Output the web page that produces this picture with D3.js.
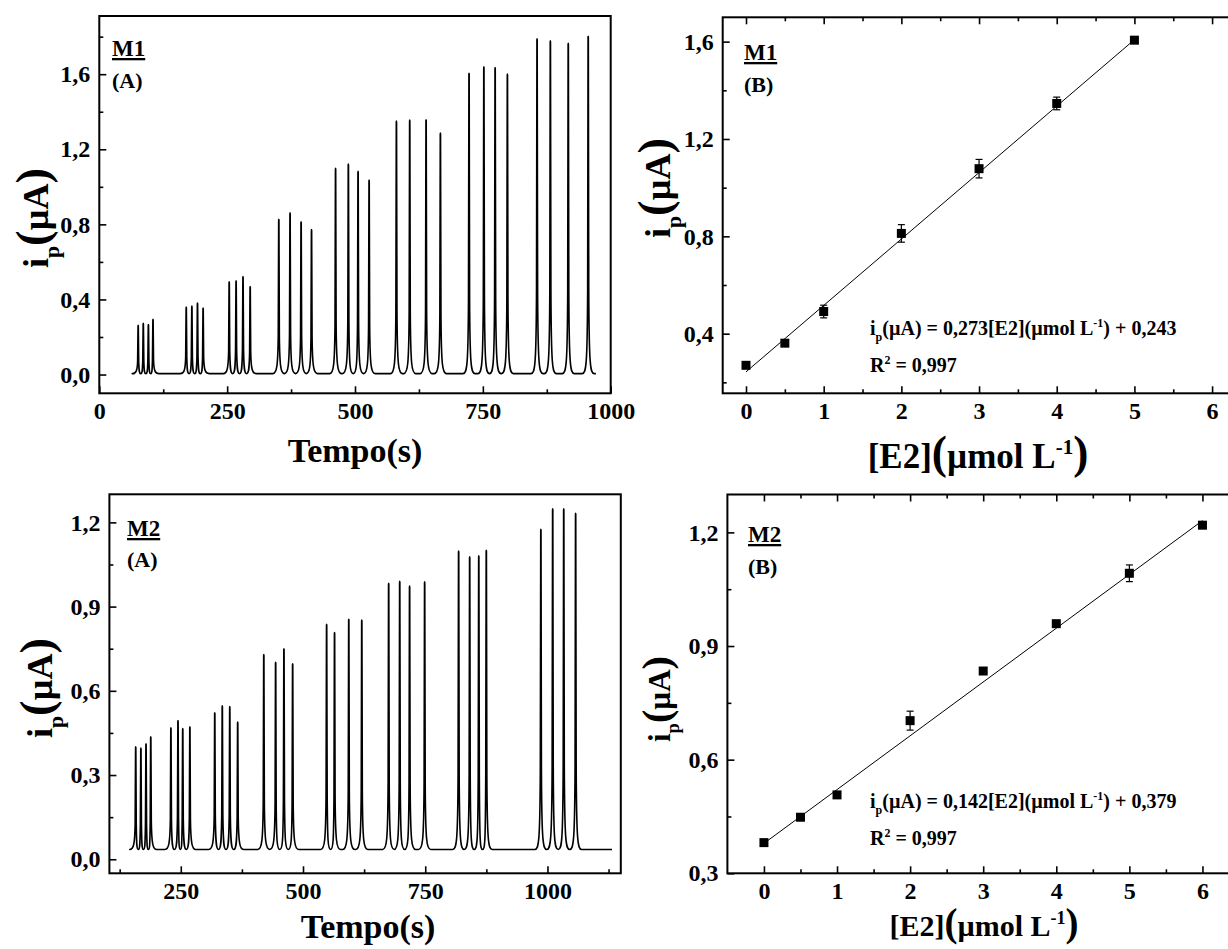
<!DOCTYPE html>
<html>
<head>
<meta charset="utf-8">
<script src="https://cdn.jsdelivr.net/npm/d3@7"></script>
<style>
  body { margin: 0; background: #fff; }
  svg { display: block; }
  text { font-family: "Liberation Serif", "Times New Roman", serif; font-weight: bold; fill: #000; white-space: pre; }
</style>
</head>
<body>
<svg id="chart" width="1228" height="949"></svg>
<script>
// ---- M1 (A): peak times (s) and peak currents (µA) ----
const m1PeakTimes = [76, 86, 96, 105, 170, 181, 192, 203, 254, 267.5, 281, 295,
  351, 373, 394.6, 415, 462, 487, 506, 527.6, 581, 607, 639, 667,
  723, 752, 774, 798, 856, 882, 917, 956];
const m1PeakHeights = [0.264, 0.275, 0.268, 0.296, 0.361, 0.367, 0.383, 0.356,
  0.496, 0.501, 0.523, 0.470, 0.829, 0.863, 0.815, 0.774,
  1.100, 1.123, 1.084, 1.037, 1.352, 1.357, 1.359, 1.288,
  1.607, 1.641, 1.637, 1.602, 1.790, 1.779, 1.766, 1.804];
const m1TraceSpan = [69, 971];
const m1Baseline = 0.005;

// ---- M2 (A) ----
const m2PeakTimes = [157.8, 168.4, 178.9, 188.6, 229.8, 244.3, 254, 268.6,
  319.5, 334.9, 350.2, 366.4, 419.8, 444, 461, 478.8,
  548.3, 564.5, 593.6, 620.2, 675.2, 697.8, 718, 748.8,
  818.3, 840.9, 859.5, 874.9, 986.5, 1010.7, 1033.3, 1057.6];
const m2PeakHeights = [0.402, 0.397, 0.412, 0.437, 0.469, 0.495, 0.467, 0.473,
  0.523, 0.548, 0.545, 0.490, 0.730, 0.703, 0.751, 0.697,
  0.838, 0.809, 0.856, 0.853, 0.984, 0.991, 0.974, 0.989,
  1.099, 1.078, 1.082, 1.102, 1.176, 1.249, 1.249, 1.233];
const m2TraceSpan = [147, 1132];
const m2Baseline = 0.035;

// ---- calibration curves (B) ----
const m1Conc = [0, 0.5, 1, 2, 3, 4, 5];
const m1Current = [0.270, 0.361, 0.491, 0.812, 1.078, 1.346, 1.606];
const m1Error = [0.010, 0.008, 0.026, 0.036, 0.038, 0.026, 0.010];
const m1Fit = [0.273, 0.243]; // slope, intercept

const m2Conc = [0, 0.5, 1, 2, 3, 4, 5, 6];
const m2Current = [0.381, 0.448, 0.507, 0.703, 0.834, 0.959, 1.092, 1.219];
const m2Error = [0.008, 0.006, 0.006, 0.025, 0.008, 0.006, 0.022, 0.006];
const m2Fit = [0.142, 0.379];

// ---- tick values ----
const tempoTicks1 = [0, 250, 500, 750, 1000];
const tempoMinor1 = [125, 375, 625, 875];
const ipTicks1 = [0, 0.4, 0.8, 1.2, 1.6];
const ipMinor1 = [0.2, 0.6, 1.0, 1.4, 1.8];
const tempoTicks2 = [250, 500, 750, 1000];
const tempoMinor2 = [125, 375, 625, 875, 1125];
const ipTicks2 = [0, 0.3, 0.6, 0.9, 1.2];
const ipMinor2 = [0.15, 0.45, 0.75, 1.05];
const concTicks = [0, 1, 2, 3, 4, 5, 6];
const concMinor = [0.5, 1.5, 2.5, 3.5, 4.5, 5.5];
const calTicks1 = [0.4, 0.8, 1.2, 1.6];
const calMinor1 = [0.2, 0.6, 1.0, 1.4];
const calTicks2 = [0.3, 0.6, 0.9, 1.2];
const calMinor2 = [0.45, 0.75, 1.05];

const FONT = '"Liberation Serif", "Times New Roman", serif';
const svg = d3.select("#chart");
const commaFmt = d => d3.format(".1f")(d).replace(".", ",");
const intFmt = d3.format("d");

// text with sub/superscripts and enlarged brackets
function rich(x, y, size, parts, anchor, rotate) {
  const t = svg.append("text")
    .attr("transform", "translate(" + x + "," + y + ")" + (rotate ? " rotate(" + rotate + ")" : ""))
    .attr("text-anchor", anchor || "start")
    .style("font-family", FONT).style("font-weight", "bold")
    .style("font-size", size + "px");
  let shift = 0;
  parts.forEach(p => {
    const s = p.sub ? size * 0.3 : p.sup ? -size * 0.4 : 0;
    const fs = (p.sub || p.sup) ? size * 0.6 : p.big ? size * 1.3 : size;
    t.append("tspan").attr("dy", s - shift).style("font-size", fs + "px").text(p.t);
    shift = s;
  });
  return t;
}

function drawPanel(cfg) {
  const x = d3.scaleLinear().domain(cfg.xDomain).range(cfg.xRange);
  const y = d3.scaleLinear().domain(cfg.yDomain).range(cfg.yRange);
  const g = svg.append("g");

  const bottom = g.append("g").attr("transform", "translate(0," + cfg.yRange[0] + ")");
  bottom.append("g").call(d3.axisBottom(x).tickValues(cfg.xMinor).tickSize(-4).tickFormat(""));
  bottom.append("g").call(d3.axisBottom(x).tickValues(cfg.xMajor).tickSize(-7).tickPadding(9).tickFormat(cfg.xFmt));

  const left = g.append("g").attr("transform", "translate(" + cfg.xRange[0] + ",0)");
  left.append("g").call(d3.axisLeft(y).tickValues(cfg.yMinor).tickSize(-4).tickFormat(""));
  left.append("g").call(d3.axisLeft(y).tickValues(cfg.yMajor).tickSize(-7).tickPadding(9).tickFormat(commaFmt));

  if (cfg.topTicks) {
    const top = g.append("g").attr("transform", "translate(0," + cfg.yRange[1] + ")");
    top.append("g").call(d3.axisTop(x).tickValues(cfg.xMinor).tickSize(-4).tickFormat(""));
    top.append("g").call(d3.axisTop(x).tickValues(cfg.xMajor).tickSize(-7).tickFormat(""));
  }
  g.selectAll(".domain").remove();
  g.selectAll(".tick line").attr("stroke-width", 1.6);
  g.selectAll(".tick text")
    .style("font-family", FONT).style("font-weight", "bold").style("font-size", "24px");

  g.append("rect")
    .attr("x", cfg.xRange[0]).attr("y", cfg.yRange[1])
    .attr("width", cfg.xRange[1] - cfg.xRange[0])
    .attr("height", cfg.yRange[0] - cfg.yRange[1])
    .attr("fill", "none").attr("stroke", "#000").attr("stroke-width", 2);
  return { x, y, g };
}

// continuous amperogram made of narrow peaks
function tracePath(x, y, times, heights, span, base) {
  const B = y(base);
  let d = "M" + x(span[0]) + "," + B;
  times.forEach((t, i) => {
    const X = x(t), T = y(heights[i]), h = B - T;
    const wl = Math.min(6, i ? (X - x(times[i - 1])) / 2 : 6);
    const wr = Math.min(6, i < times.length - 1 ? (x(times[i + 1]) - X) / 2 : 6);
    const f = Math.min(0.05 * h, 7);
    d += "L" + (X - wl) + "," + B +
      "C" + (X - wl * 0.35) + "," + B + " " + (X - 0.9) + "," + (B - f) + " " + (X - 0.55) + "," + (B - 0.25 * h) +
      "L" + (X - 0.12) + "," + (T + 1.2) +
      "Q" + X + "," + (T - 0.6) + " " + (X + 0.12) + "," + (T + 1.2) +
      "L" + (X + 0.55) + "," + (B - 0.25 * h) +
      "C" + (X + 0.9) + "," + (B - f) + " " + (X + wr * 0.35) + "," + B + " " + (X + wr) + "," + B;
  });
  d += "L" + x(span[1]) + "," + B;
  return d;
}

function drawTrace(p, times, heights, span, base) {
  p.g.append("path")
    .attr("d", tracePath(p.x, p.y, times, heights, span, base))
    .attr("fill", "none").attr("stroke", "#000")
    .attr("stroke-width", 1.6).attr("stroke-linejoin", "round");
}

function drawCalibration(p, conc, current, err, fit) {
  const xEnd = d3.max(conc);
  p.g.append("path")
    .datum([0, xEnd])
    .attr("d", d3.line().x(d => p.x(d)).y(d => p.y(fit[0] * d + fit[1])))
    .attr("fill", "none").attr("stroke", "#000").attr("stroke-width", 1);
  const pts = p.g.append("g").selectAll("g").data(conc).join("g");
  pts.append("line")
    .attr("x1", d => p.x(d)).attr("x2", d => p.x(d))
    .attr("y1", (d, i) => p.y(current[i] - err[i])).attr("y2", (d, i) => p.y(current[i] + err[i]))
    .attr("stroke", "#000").attr("stroke-width", 1.2);
  [-1, 1].forEach(s => {
    pts.append("line")
      .attr("x1", d => p.x(d) - 3.5).attr("x2", d => p.x(d) + 3.5)
      .attr("y1", (d, i) => p.y(current[i] + s * err[i])).attr("y2", (d, i) => p.y(current[i] + s * err[i]))
      .attr("stroke", "#000").attr("stroke-width", 1.2);
  });
  pts.append("rect")
    .attr("x", d => p.x(d) - 4.5).attr("y", (d, i) => p.y(current[i]) - 4.5)
    .attr("width", 9).attr("height", 9).attr("fill", "#000");
}

// ---------- panels ----------
const a1 = drawPanel({ xDomain: [0, 1000], xRange: [99.3, 610.7], yDomain: [-0.1, 1.91], yRange: [393.3, 16],
  xMajor: tempoTicks1, xMinor: tempoMinor1, yMajor: ipTicks1, yMinor: ipMinor1, xFmt: intFmt });
drawTrace(a1, m1PeakTimes, m1PeakHeights, m1TraceSpan, m1Baseline);

const b1 = drawPanel({ xDomain: [-0.3, 6.3], xRange: [722.7, 1235.4], yDomain: [0.155, 1.7], yRange: [393.3, 17.3],
  xMajor: concTicks, xMinor: concMinor, yMajor: calTicks1, yMinor: calMinor1, xFmt: intFmt, topTicks: true });
drawCalibration(b1, m1Conc, m1Current, m1Error, m1Fit);

const a2 = drawPanel({ xDomain: [104, 1150], xRange: [109.4, 620.8], yDomain: [-0.05, 1.3], yRange: [873.3, 494.3],
  xMajor: tempoTicks2, xMinor: tempoMinor2, yMajor: ipTicks2, yMinor: ipMinor2, xFmt: intFmt });
drawTrace(a2, m2PeakTimes, m2PeakHeights, m2TraceSpan, m2Baseline);

const b2 = drawPanel({ xDomain: [-0.5, 6.5], xRange: [727.4, 1239], yDomain: [0.3, 1.3], yRange: [873.3, 494.5],
  xMajor: concTicks, xMinor: concMinor, yMajor: calTicks2, yMinor: calMinor2, xFmt: intFmt, topTicks: true });
drawCalibration(b2, m2Conc, m2Current, m2Error, m2Fit);

// ---------- labels ----------
const ipTitle = [{ t: "i" }, { t: "p", sub: true }, { t: "(", big: true }, { t: "µA" }, { t: ")", big: true }];
const concTitle = [{ t: "[E2]" }, { t: "(", big: true }, { t: "µmol L" }, { t: "-1", sup: true }, { t: ")", big: true }];

rich(355, 462, 34, [{ t: "Tempo(s)" }], "middle");
rich(368, 938, 34, [{ t: "Tempo(s)" }], "middle");
rich(978, 468, 35, concTitle, "middle");
rich(984, 936, 30, concTitle, "middle");

rich(48, 218, 36, ipTitle, "middle", -90);
rich(52, 688, 36, ipTitle, "middle", -90);
rich(670, 188, 36, ipTitle, "middle", -90);
rich(670, 699, 31, ipTitle, "middle", -90);

// panel tags
rich(112, 56, 23, [{ t: "M1" }]).style("text-decoration", "underline");
rich(112, 88, 22, [{ t: "(A)" }]);
rich(744, 60, 23, [{ t: "M1" }]).style("text-decoration", "underline");
rich(744, 92, 22, [{ t: "(B)" }]);
rich(127, 536, 23, [{ t: "M2" }]).style("text-decoration", "underline");
rich(127, 567, 22, [{ t: "(A)" }]);
rich(748, 542, 23, [{ t: "M2" }]).style("text-decoration", "underline");
rich(748, 574, 22, [{ t: "(B)" }]);

// fit equations
const eq = (a, b) => [{ t: "i" }, { t: "p", sub: true }, { t: "(µA) = " + a + "[E2](µmol L" }, { t: "-1", sup: true }, { t: ") + " + b }];
const r2 = [{ t: "R" }, { t: "2", sup: true }, { t: " = 0,997" }];
rich(870, 335, 20, eq("0,273", "0,243"));
rich(870, 372, 20, r2);
rich(870, 808, 20, eq("0,142", "0,379"));
rich(870, 845, 20, r2);
</script>
</body>
</html>
